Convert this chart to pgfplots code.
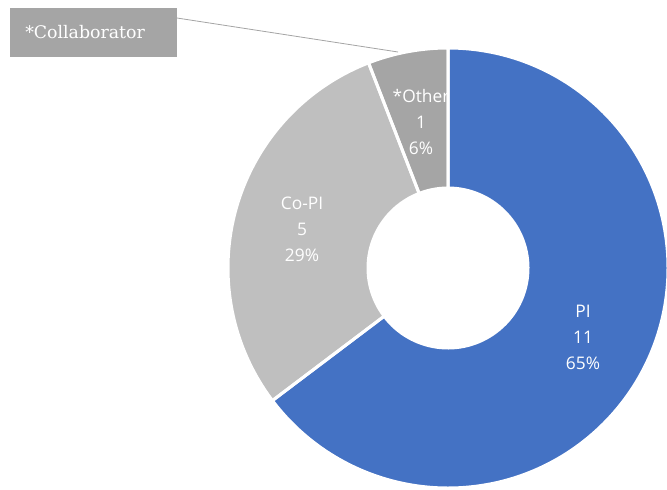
\documentclass[border=0pt]{standalone}
\usepackage{fontspec}
\setmainfont{Open Sans}
\newfontfamily\boxfont{DejaVu Serif}
\usepackage{pgfplots}
\usepackage{pgfplotstable}
\pgfplotsset{compat=1.18}
\definecolor{cPI}{HTML}{4472C4}
\definecolor{cCo}{HTML}{BFBFBF}
\definecolor{cOt}{HTML}{A5A5A5}
\definecolor{cLead}{HTML}{A6A6A6}

\pgfplotstableread{
name value
PI 11
Co-PI 5
Other 1
}\piedata

% donut segment path: start angle, end angle (canvas degrees), centre at (448,268) px
\newcommand\segpath[2]{([shift={(#1:165pt)}]axis cs:448,268) arc[start angle=#1, end angle=#2, radius=165pt] -- ([shift={(#2:60pt)}]axis cs:448,268) arc[start angle=#2, end angle=#1, radius=60pt] -- cycle}

\begin{document}
\begin{tikzpicture}
\pgfplotstablegetelem{0}{value}\of\piedata \edef\vA{\pgfplotsretval}
\pgfplotstablegetelem{1}{value}\of\piedata \edef\vB{\pgfplotsretval}
\pgfplotstablegetelem{2}{value}\of\piedata \edef\vC{\pgfplotsretval}
\pgfmathsetmacro\tot{\vA+\vB+\vC}
\pgfmathsetmacro\aA{90}
\pgfmathsetmacro\aB{90-360*\vA/\tot}
\pgfmathsetmacro\aC{\aB-360*\vB/\tot}
\pgfmathsetmacro\aD{\aC-360*\vC/\tot}
\pgfmathtruncatemacro\pA{round(100*\vA/\tot)}
\pgfmathtruncatemacro\pB{round(100*\vB/\tot)}
\pgfmathtruncatemacro\pC{round(100*\vC/\tot)}
\begin{axis}[
  width=500.25pt, height=366.75pt, scale only axis,
  hide axis, xmin=0, xmax=667, ymin=0, ymax=489, y dir=reverse,
  clip=true,
]
\fill[cPI] \segpath{\aA}{\aB};
\fill[cCo] \segpath{\aB}{\aC};
\fill[cOt] \segpath{\aC}{\aD};
% labels
\node[align=center, text=white, font=\fontsize{13}{19.5}\selectfont] at (axis cs:583,337) {PI\\\vA\\\pA\%};
\node[align=center, text=white, font=\fontsize{13}{19.5}\selectfont] at (axis cs:302,229) {Co-PI\\\vB\\\pB\%};
\begin{scope}
\clip \segpath{\aC}{\aD};
\node[align=center, text=white, font=\fontsize{13}{19.5}\selectfont] at (axis cs:421,122) {*Other\\\vC\\\pC\%};
\end{scope}
% white separators
\draw[white, line width=2.25pt, line join=round] \segpath{\aA}{\aB};
\draw[white, line width=2.25pt, line join=round] \segpath{\aB}{\aC};
\draw[white, line width=2.25pt, line join=round] \segpath{\aC}{\aD};
% callout
\draw[cLead, line width=0.6pt] (axis cs:177,18) -- (axis cs:398,52);
\fill[cOt] (axis cs:10,8) rectangle (axis cs:177,57);
\node[anchor=west, text=white, inner sep=0pt, font=\boxfont\fontsize{13}{15}\selectfont] at (axis cs:25,32) {*Collaborator};
\end{axis}
\pgfresetboundingbox
\useasboundingbox (current axis.south west) rectangle (current axis.north east);
\end{tikzpicture}
\end{document}
